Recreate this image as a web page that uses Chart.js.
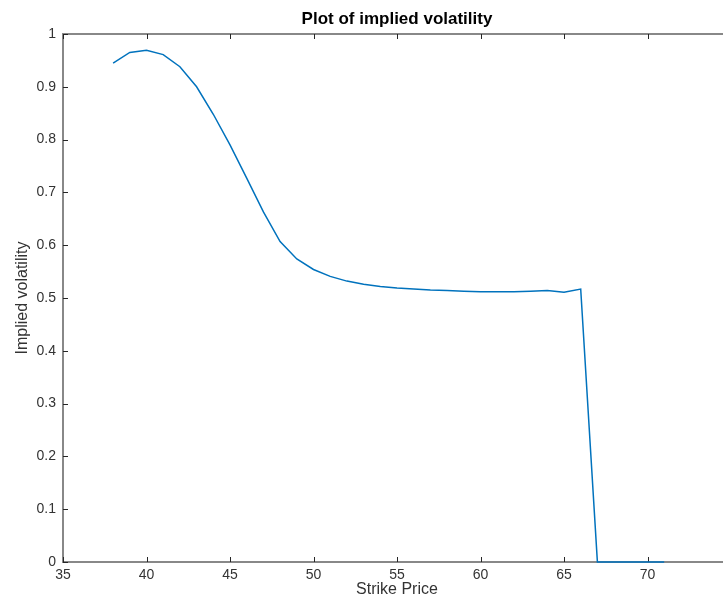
<!DOCTYPE html>
<html>
<head>
<meta charset="utf-8">
<script src="https://cdn.jsdelivr.net/npm/chart.js@4.4.0/dist/chart.umd.min.js"></script>
<style>
  html, body { margin: 0; padding: 0; background: #fff; overflow: hidden; }
  #wrap { width: 780px; height: 602px; }
</style>
</head>
<body>
<div id="wrap"><canvas id="chart" width="780" height="602"></canvas></div>
<script>
// strike prices and the implied volatility
const strikes = [38, 39, 40, 41, 42, 43, 44, 45, 46, 47, 48, 49, 50, 51, 52, 53, 54, 55,
  56, 57, 58, 59, 60, 61, 62, 63, 64, 65, 66, 67, 68, 69, 70, 71];
const impliedVol = [0.945, 0.965, 0.969, 0.961, 0.938, 0.900, 0.848, 0.790, 0.727, 0.663,
  0.607, 0.574, 0.554, 0.541, 0.532, 0.526, 0.522, 0.519, 0.517, 0.515, 0.514, 0.513,
  0.512, 0.512, 0.512, 0.513, 0.514, 0.511, 0.517, 0, 0, 0, 0, 0];
const xTicks = [35, 40, 45, 50, 55, 60, 65, 70, 75];
const yTicks = [0, 0.1, 0.2, 0.3, 0.4, 0.5, 0.6, 0.7, 0.8, 0.9, 1];

const points = strikes.map((s, i) => ({ x: s, y: impliedVol[i] }));

// matlab style box with ticks pointing inwards
const boxPlugin = {
  id: 'matlabBox',
  beforeDatasetsDraw(chart) {
    const { ctx, chartArea: a, scales } = chart;
    ctx.save();
    ctx.strokeStyle = '#888888';
    ctx.lineWidth = 2;
    ctx.strokeRect(a.left, a.top, a.right - a.left, a.bottom - a.top);
    ctx.strokeStyle = '#262626';
    ctx.lineWidth = 1;
    ctx.beginPath();
    xTicks.forEach(v => {
      const px = Math.round(scales.x.getPixelForValue(v)) + 0.5;
      ctx.moveTo(px, a.bottom);
      ctx.lineTo(px, a.bottom - 5);
      ctx.moveTo(px, a.top);
      ctx.lineTo(px, a.top + 5);
    });
    yTicks.forEach(v => {
      const py = Math.round(scales.y.getPixelForValue(v)) + 0.5;
      ctx.moveTo(a.left, py);
      ctx.lineTo(a.left + 5, py);
      ctx.moveTo(a.right, py);
      ctx.lineTo(a.right - 5, py);
    });
    ctx.stroke();
    ctx.restore();
  }
};

const fam = 'Liberation Sans, Arial, sans-serif';
const tickFont = { family: fam, size: 14 };

new Chart(document.getElementById('chart'), {
  type: 'scatter',
  data: {
    datasets: [{
      label: 'Implied volatility',
      data: points,
      showLine: true,
      borderColor: '#0072BD',
      borderWidth: 1.5,
      pointRadius: 0,
      tension: 0,
      clip: 4
    }]
  },
  options: {
    responsive: false,
    animation: false,
    layout: { padding: { left: 0, right: 49, top: 0, bottom: 0 } },
    plugins: {
      legend: { display: false },
      tooltip: { enabled: false },
      title: {
        display: true,
        fullSize: false,
        text: 'Plot of implied volatility',
        color: '#000',
        font: { family: fam, size: 17, weight: 'bold' },
        padding: { top: 9, bottom: 4.6 }
      }
    },
    scales: {
      x: {
        type: 'linear',
        min: 35,
        max: 75,
        afterFit: s => { s.height = 40; },
        afterBuildTicks: s => { s.ticks = xTicks.map(v => ({ value: v })); },
        grid: { display: false, drawTicks: false },
        border: { display: false },
        ticks: { color: '#333', font: tickFont, padding: 5, maxRotation: 0 },
        title: {
          display: true,
          text: 'Strike Price',
          color: '#333',
          font: { family: fam, size: 16 },
          padding: { top: 0, bottom: 3 }
        }
      },
      y: {
        min: 0,
        max: 1,
        afterFit: s => { s.width = 63; },
        afterBuildTicks: s => { s.ticks = yTicks.map(v => ({ value: v })); },
        grid: { display: false, drawTicks: false },
        border: { display: false },
        ticks: { color: '#333', font: tickFont, padding: 7, callback: v => String(v) },
        title: {
          display: true,
          text: 'Implied volatility',
          color: '#333',
          font: { family: fam, size: 16 },
          padding: { top: 13, bottom: 0 }
        }
      }
    }
  },
  plugins: [boxPlugin]
});
</script>
</body>
</html>
